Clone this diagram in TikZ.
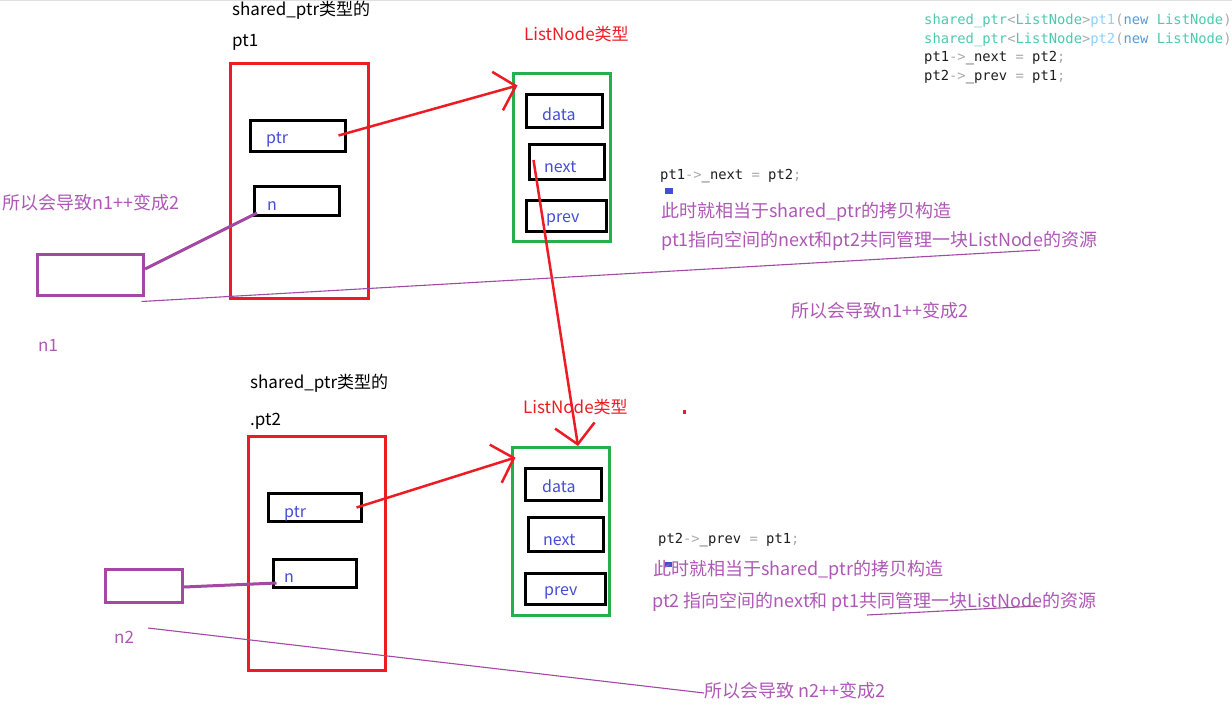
\documentclass[tikz,border=0pt]{standalone}
\usepackage{fontspec}
\setmainfont{Noto Sans CJK SC}
\setmonofont{DejaVu Sans Mono}
\usetikzlibrary{arrows.meta}

\definecolor{paintred}{RGB}{237,28,36}
\definecolor{paintgreen}{RGB}{34,177,76}
\definecolor{paintpurple}{RGB}{163,73,164}
\definecolor{notepurple}{RGB}{174,88,182}
\definecolor{fieldblue}{RGB}{68,78,212}
\definecolor{codeteal}{RGB}{78,201,176}
\definecolor{codelight}{RGB}{140,210,250}
\definecolor{codeblue}{RGB}{86,156,214}
\definecolor{codegray}{RGB}{170,170,170}
\definecolor{codeink}{RGB}{30,30,30}

\begin{document}
\begin{tikzpicture}[x=1pt, y=-1pt,
  rect/.style n args={3}{draw=#1, line width=3pt, inner sep=0pt, minimum width=#2, minimum height=#3},
  lbl/.style={inner sep=0pt, anchor=base west, font=\fontsize{17pt}{20pt}\selectfont},
  field/.style={lbl, text=fieldblue, font=\fontsize{16pt}{19pt}\selectfont},
  note/.style={lbl, text=notepurple, font=\fontsize{18pt}{21pt}\selectfont},
  code/.style={lbl, text=codeink, font=\ttfamily\fontsize{13.8pt}{16pt}\selectfont},
  ptrarrow/.style={draw=paintred, line width=2.5pt, -{Straight Barb[length=19pt, width=40pt, line width=2.5pt]}},
  refline/.style={draw=paintpurple, line width=3pt},
  thinline/.style={draw=paintpurple, line width=1.1pt}]
\useasboundingbox (0,0) rectangle (1232,709);
\fill[white] (0,0) rectangle (1232,709);
\clip (0,0) rectangle (1232,709);
\draw[gray!25, line width=1pt] (0,0.5) -- (1232,0.5);

% pt1 and its ListNode
\node[lbl] (titleA) at (232,16) {shared\_ptr类型的};
\node[lbl] (nameA) at (232,47) {pt1};
\node[rect={paintred}{138pt}{235pt}] (spA) at (299,181) {};
\node[rect={black}{95pt}{31pt}] (ptrA) at (297.5,135.5) {};
\node[field] (ptrAtxt) at (266,143) {ptr};
\node[rect={black}{85pt}{29pt}] (nA) at (297,201) {};
\node[field] (nAtxt) at (267,210) {n};
\node[rect={paintpurple}{106pt}{41pt}] (cntA) at (90.5,275) {};
\node[note] (leftA) at (2,209) {所以会导致n1++变成2};
\node[lbl, text=notepurple] (cntAname) at (38,351) {n1};

\node[lbl, text=paintred] (typeA) at (524,41) {ListNode类型};
\node[rect={paintgreen}{97pt}{168pt}] (listA) at (562,157.5) {};
\node[rect={black}{76pt}{33pt}] (dataA) at (564.5,111) {};
\node[field] at (542,120) {data};
\node[rect={black}{75pt}{35pt}] (nextA) at (567,162) {};
\node[field] at (544,172) {next};
\node[rect={black}{80pt}{31pt}] (prevA) at (566.5,216) {};
\node[field] at (546,222) {prev};

% pt2 and its ListNode
\node[lbl] (titleB) at (250,388) {shared\_ptr类型的};
\node[lbl] (nameB) at (250,425) {.pt2};
\node[rect={paintred}{137pt}{234pt}] (spB) at (317,553.5) {};
\node[rect={black}{93pt}{28pt}] (ptrB) at (315,507.5) {};
\node[field] (ptrBtxt) at (284,517) {ptr};
\node[rect={black}{83pt}{28pt}] (nB) at (315,573.5) {};
\node[field] (nBtxt) at (284,582) {n};
\node[rect={paintpurple}{77pt}{33pt}] (cntB) at (144,586) {};
\node[lbl, text=notepurple] (cntBname) at (114,643) {n2};

\node[lbl, text=paintred] (typeB) at (523,413) {ListNode类型};
\fill[paintred] (683,410) rectangle (686,414);
\node[rect={paintgreen}{97pt}{168pt}] (listB) at (561,531.5) {};
\node[rect={black}{76pt}{32pt}] (dataB) at (563.5,484.5) {};
\node[field] at (542,492) {data};
\node[rect={black}{75pt}{34pt}] (nextB) at (566,534.5) {};
\node[field] at (543,545) {next};
\node[rect={black}{80pt}{31pt}] (prevB) at (565.5,589) {};
\node[field] at (544,595) {prev};

% code and notes
\node[code] (codeA) at (924,25) {\textcolor{codeteal}{shared\_ptr}\textcolor{codegray}{<}\textcolor{codeteal}{ListNode}\textcolor{codegray}{>}\textcolor{codelight}{pt1}\textcolor{codegray}{(}\textcolor{codeblue}{new} \textcolor{codeteal}{ListNode}\textcolor{codegray}{)}};
\node[code] (codeB) at (924,43.5) {\textcolor{codeteal}{shared\_ptr}\textcolor{codegray}{<}\textcolor{codeteal}{ListNode}\textcolor{codegray}{>}\textcolor{codelight}{pt2}\textcolor{codegray}{(}\textcolor{codeblue}{new} \textcolor{codeteal}{ListNode}\textcolor{codegray}{)}};
\node[code] (codeC) at (924,62) {pt1\textcolor{codegray}{->}\_next \textcolor{codegray}{=} pt2\textcolor{codegray}{;}};
\node[code] (codeD) at (924,80.5) {pt2\textcolor{codegray}{->}\_prev \textcolor{codegray}{=} pt1\textcolor{codegray}{;}};

\node[code] (stepA) at (660,179) {pt1\textcolor{codegray}{->}\_next \textcolor{codegray}{=} pt2\textcolor{codegray}{;}};
\fill[fieldblue] (665,188) rectangle (673,194);
\node[note] (noteA1) at (661,217) {此时就相当于shared\_ptr的拷贝构造};
\node[note] (noteA2) at (661,246) {pt1指向空间的next和pt2共同管理一块ListNode的资源};
\node[note] (noteA3) at (791,317) {所以会导致n1++变成2};

\node[code] (stepB) at (658,543) {pt2\textcolor{codegray}{->}\_prev \textcolor{codegray}{=} pt1\textcolor{codegray}{;}};
\fill[fieldblue] (665,562) rectangle (672,567);
\node[note] (noteB1) at (653,575) {此时就相当于shared\_ptr的拷贝构造};
\node[note] (noteB2) at (652,607) {pt2 指向空间的next和 pt1共同管理一块ListNode的资源};
\node[note] (noteB3) at (704,697) {所以会导致 n2++变成2};

\coordinate (lineAend) at (1040,250);
\coordinate (lineBstart) at (148,628);
\coordinate (ulineB1) at (867,615);
\coordinate (ulineB2) at (1037,606);

% connectors
\draw[ptrarrow] ([xshift=-8pt]ptrA.east) -- ([shift={(5.5,13.5)}]listA.north west);
\draw[ptrarrow] ([shift={(5.5,-2)}]nextA.west) -- ([xshift=17pt]listB.north);
\draw[ptrarrow] ([xshift=-6.5pt]ptrB.east) -- ([shift={(4.5,11.5)}]listB.north west);
\draw[refline] ([yshift=6pt]cntA.east) -- ([shift={(4,-4)}]nA.south west);
\draw[refline] ([yshift=-1pt]cntB.east) -- ([shift={(4.5,9.5)}]nB.west);
\draw[thinline] ([shift={(-3.5,4.5)}]cntA.south east) -- (lineAend);
\draw[thinline] (lineBstart) -- ([yshift=4pt]noteB3.base west);
\draw[thinline] (ulineB1) -- (ulineB2);
\end{tikzpicture}
\end{document}
